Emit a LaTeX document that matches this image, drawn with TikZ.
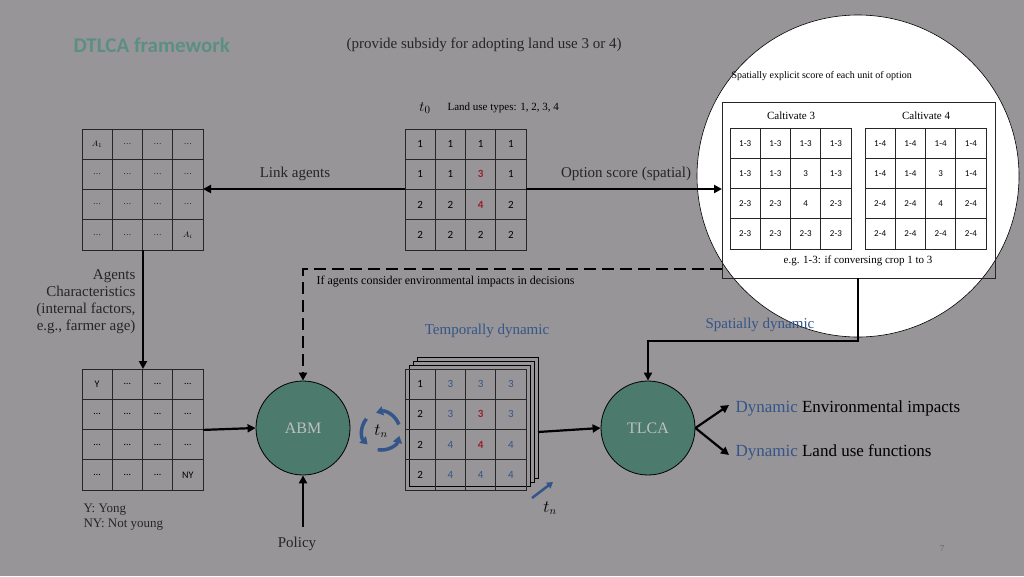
\documentclass[tikz,border=0pt]{standalone}
\usepackage{fontspec}
\setmainfont{Liberation Serif}
\newfontfamily\myCal{Carlito}
\usetikzlibrary{arrows.meta}
\definecolor{bg}{HTML}{979597}
\definecolor{teal}{HTML}{4C7A6C}
\definecolor{ttl}{HTML}{5C8F82}
\definecolor{dblue}{HTML}{34558A}
\definecolor{dred}{HTML}{9A1E2A}
\tikzset{
 cell/.style={draw=black!85,line width=0.8pt,minimum size=30.25pt,inner sep=0pt,font=\myCal\fontsize{11}{11}\selectfont},
 scell/.style={cell,font=\myCal\fontsize{9}{9}\selectfont},
 arr/.style={line width=2.2pt,-{Triangle[length=8pt,width=8pt]}},
 lbl/.style={font=\fontsize{15}{17}\selectfont,text=black!85},
 circ/.style={circle,fill=teal,draw=black,line width=0.8pt,minimum size=94pt,text=black!25,font=\fontsize{16}{16}\selectfont},
}
\newcommand{\mygrid}[5]{% x y name style entries
 \foreach \r [count=\i from 0] in {#5}{\foreach \c [count=\j from 0] in \r {
  \node[#4] (#3-\i-\j) at ({#1+15.125+30.25*\j},{#2+15.125+30.25*\i}) {\c};}}}
\newcommand{\dts}{\ldots}
\begin{document}
\begin{tikzpicture}[x=1pt,y=-1pt]
\fill[bg] (0,0) rectangle (1024,576);
\useasboundingbox (0,0) rectangle (1024,576);
\node[font=\myCal\bfseries\fontsize{21}{21}\selectfont,text=ttl,anchor=west] (title) at (70,45) {DTLCA framework};
\node[lbl,anchor=west] (sub) at (343,45) {(provide subsidy for adopting land use 3 or 4)};
% magnifier
\fill[white] (858,176) circle (161);
\draw[black,line width=0.6pt] (858,176) circle (161);
\node[font=\fontsize{10}{10}\selectfont,anchor=west] (sp) at (728,76) {Spatially explicit score of each unit of option};
\node[draw=black!85,line width=0.8pt,minimum width=273pt,minimum height=176pt,anchor=north west,inner sep=0pt] (box) at (722,102) {};
\node[font=\fontsize{11}{11}\selectfont] (c3) at (791,116) {Caltivate 3};
\node[font=\fontsize{11}{11}\selectfont] (c4) at (926,116) {Caltivate 4};
\mygrid{730}{128}{ga}{scell}{{1-3,1-3,1-3,1-3},{1-3,1-3,3,1-3},{2-3,2-3,4,2-3},{2-3,2-3,2-3,2-3}}
\mygrid{865}{128}{gb}{scell}{{1-4,1-4,1-4,1-4},{1-4,1-4,3,1-4},{2-4,2-4,4,2-4},{2-4,2-4,2-4,2-4}}
\node[font=\fontsize{11}{11}\selectfont] (eg) at (858,261) {e.g. 1-3: if conversing crop 1 to 3};
% t0 grid
\node[font=\fontsize{15}{15}\selectfont] (t0) at (425,108) {$t_0$};
\node[font=\fontsize{11}{11}\selectfont,anchor=west] (lu) at (444,108) {Land use types: 1, 2, 3, 4};
\mygrid{405}{129}{gc}{cell}{{1,1,1,1},{1,1,\textcolor{dred}{\bfseries 3},1},{2,2,\textcolor{dred}{\bfseries 4},2},{2,2,2,2}}
\mygrid{82}{129}{gd}{cell,font=\fontsize{8}{8}\selectfont}{{$A_1$,\dts,\dts,\dts},{\dts,\dts,\dts,\dts},{\dts,\dts,\dts,\dts},{\dts,\dts,\dts,$A_i$}}
\coordinate (la) at (405,189); \coordinate (lb) at (203,189);
\draw[arr] (la) -- (lb);
\node[lbl] (link) at (295,174) {Link agents};
\coordinate (oa) at (526,189); \coordinate (ob) at (722,189);
\draw[arr] (oa) -- (ob);
\node[lbl] (opt) at (626,174) {Option score (spatial)};
\node[lbl,align=right,anchor=north east] (agc) at (139,266) {Agents\\Characteristics\\(internal factors,\\e.g., farmer age)};
% bottom left grid
\mygrid{82}{369}{ge}{cell,font=\myCal\fontsize{10}{10}\selectfont}{{Y,\dts,\dts,\dts},{\dts,\dts,\dts,\dts},{\dts,\dts,\dts,\dts},{\dts,\dts,\dts,NY}}
\coordinate (ga0) at (143,250);
\draw[arr] (ga0) -- (143,369);
\node[lbl,align=left,anchor=north west,font=\fontsize{13}{15}\selectfont] (yn) at (80,500) {Y: Yong\\NY: Not young};
% ABM and TLCA
\node[circ] (abm) at (303,428) {ABM};
\node[circ] (tlca) at (648,428) {TLCA};
% dashed
\coordinate (d0) at (722,269);
\draw[line width=2.6pt,dash pattern=on 12pt off 6pt,-{Triangle[length=8pt,width=8pt]}] (d0) -- (303,269) -- (abm.north);
\node[font=\fontsize{12}{12}\selectfont,anchor=west] (ifa) at (313,282) {If agents consider environmental impacts in decisions};
% stack
\foreach \k in {3,2,1}{\draw[line width=0.8pt,fill=bg] ({405+4*\k},{369-4*\k}) rectangle ({526+4*\k},{490-4*\k});}
\mygrid{405}{369}{gs}{cell}{{1,\textcolor{dblue}{3},\textcolor{dblue}{3},\textcolor{dblue}{3}},{2,\textcolor{dblue}{3},\textcolor{dred}{\bfseries 3},\textcolor{dblue}{3}},{2,\textcolor{dblue}{4},\textcolor{dred}{\bfseries 4},\textcolor{dblue}{4}},{2,\textcolor{dblue}{4},\textcolor{dblue}{4},\textcolor{dblue}{4}}}
\node[font=\fontsize{15}{15}\selectfont,text=dblue] (td) at (487,331) {Temporally dynamic};
% cycle
\node[font=\fontsize{16}{16}\selectfont] (tn) at (381,431) {$t_n$};
\foreach \a in {100,220,340}{\draw[dblue,line width=3.5pt,-{Triangle[length=7pt,width=9pt]}] (381,431) ++(\a:19) arc[start angle=\a,end angle=\a-85,radius=19];}
\coordinate (ar1) at (532,498); \coordinate (ar2) at (553,482);
\draw[dblue,line width=2.5pt,-{Triangle[length=6pt,width=7pt]}] (ar1) -- (ar2);
\node[font=\fontsize{16}{16}\selectfont] (tn2) at (550,508) {$t_n$};
\coordinate (sa) at (538,432);
\draw[arr] (sa) -- (tlca.west);
\draw[arr] (ge-1-3.south east) -- (abm.west);
\coordinate (pol) at (303,527);
\draw[arr] (pol) -- (abm.south);
\node[lbl] (polt) at (297,544) {Policy};
% spatially dynamic
\coordinate (s0) at (858,278);
\draw[line width=2.2pt,-{Triangle[length=8pt,width=8pt]}] (s0) -- (858,341) -- (648,341) -- (tlca.north);
\node[font=\fontsize{15}{15}\selectfont,text=dblue] (sd) at (760,325) {Spatially dynamic};
% outputs
\coordinate (o1) at (729,405); \coordinate (o2) at (729,455);
\draw[arr] (tlca.east) -- (o1);
\draw[arr] (tlca.east) -- (o2);
\node[font=\fontsize{17}{17}\selectfont,anchor=west] (ei) at (732,408) {\textcolor{dblue}{Dynamic} Environmental impacts};
\node[font=\fontsize{17}{17}\selectfont,anchor=west] (lf) at (732,452) {\textcolor{dblue}{Dynamic} Land use functions};
\node[font=\fontsize{9}{9}\selectfont,text=black!60] (pg) at (942,549) {7};
\end{tikzpicture}
\end{document}
